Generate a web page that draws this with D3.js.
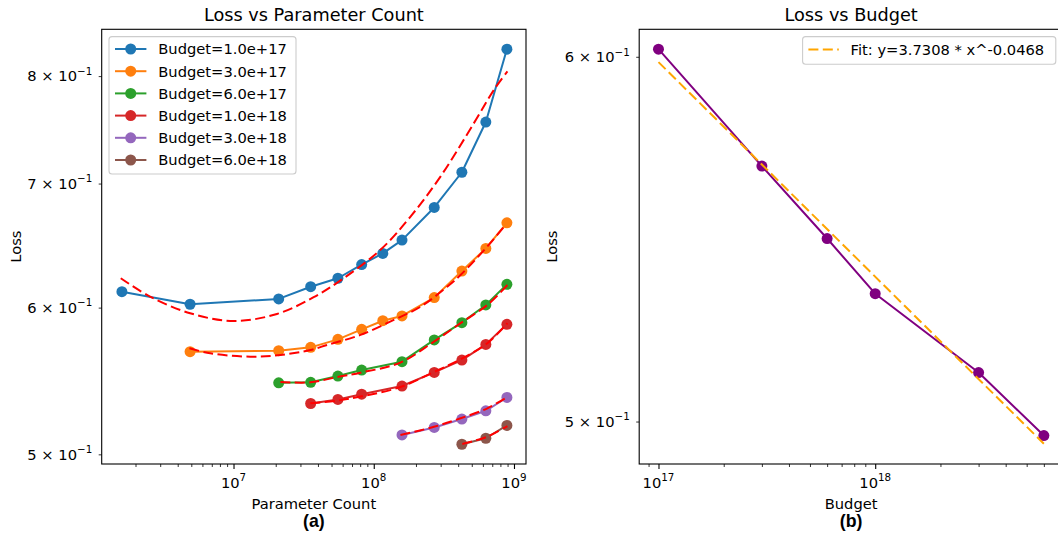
<!DOCTYPE html>
<html><head><meta charset="utf-8">
<script src="https://cdn.jsdelivr.net/npm/d3@7"></script>
<style>
html,body{margin:0;padding:0;background:#fff;}
svg{display:block;font-family:"DejaVu Sans",sans-serif;}
</style></head><body>
<svg id="chart" width="1058" height="538"></svg>
<script>
// ---------------- data ----------------
const budgetLabels = ["Budget=1.0e+17","Budget=3.0e+17","Budget=6.0e+17","Budget=1.0e+18","Budget=3.0e+18","Budget=6.0e+18"];
const seriesColors = ["#1f77b4","#ff7f0e","#2ca02c","#d62728","#9467bd","#8c564b"];

const paramCounts = [1.6e6, 4.9e6, 2.1e7, 3.55e7, 5.55e7, 8.2e7, 1.16e8, 1.59e8, 2.7e8, 4.25e8, 6.3e8, 8.9e8];
const lossB1e17 = [0.612, 0.6025, 0.6065, 0.6158, 0.6223, 0.633, 0.6418, 0.6525, 0.6795, 0.7099, 0.7556, 0.8272];
const lossB3e17 = [null, 0.5680, 0.5687, 0.5711, 0.5768, 0.5840, 0.5903, 0.5938, 0.6075, 0.6279, 0.6458, 0.6667];
const lossB6e17 = [null, null, 0.5465, 0.5468, 0.5511, 0.5552, null, 0.5610, 0.5764, 0.5889, 0.6020, 0.6176];
const lossB1e18 = [null, null, null, 0.5326, 0.5353, 0.5388, null, 0.5443, 0.5536, 0.5621, 0.5732, 0.5877];
const lossB3e18 = [null, null, null, null, null, null, null, 0.5122, 0.5170, 0.5224, 0.5278, 0.5366];
const lossB6e18 = [null, null, null, null, null, null, null, null, null, 0.5063, 0.5101, 0.5183];

// fitted curves (red dashed)
const fitParamsB1e17 = [1.57e6, 2.54e6, 4.91e6, 1.0e7, 2.04e7, 3.73e7, 6.1e7, 1.117e8, 1.83e8, 2.99e8, 5.18e8, 7.2e8, 8.98e8];
const fitLossB1e17   = [0.6223, 0.6083, 0.5958, 0.5901, 0.5953, 0.6078, 0.6223, 0.6447, 0.6719, 0.7061, 0.7546, 0.7865, 0.8046];
const fitParamsB3e17 = [4.85e6, 6.82e6, 1.316e7, 2.16e7, 3.53e7, 4.65e7, 8.04e7, 1.39e8, 2.16e8, 3.34e8, 4.16e8, 6.46e8, 8.73e8];
const fitLossB3e17   = [0.5704, 0.5669, 0.5645, 0.5657, 0.5692, 0.5728, 0.5800, 0.5909, 0.6007, 0.6158, 0.6248, 0.6474, 0.6651];
const fitParamsB6e17 = [2.16e7, 3.53e7, 5.48e7, 8.04e7, 1.55e8, 2.69e8, 4.16e8, 6.46e8, 8.98e8];
const fitLossB6e17   = [0.5471, 0.5468, 0.5504, 0.5534, 0.5604, 0.5752, 0.5885, 0.6020, 0.6171];
const fitParamsB1e18 = [3.53e7, 5.48e7, 8.04e7, 1.55e8, 2.69e8, 4.16e8, 6.46e8, 8.98e8];
const fitLossB1e18   = [0.5327, 0.5345, 0.5372, 0.5436, 0.5539, 0.5627, 0.5740, 0.5885];
const fitParamsB3e18 = [1.55e8, 2.69e8, 4.16e8, 6.46e8, 8.98e8];
const fitLossB3e18   = [0.5122, 0.5174, 0.5229, 0.5294, 0.5370];
const fitParamsB6e18 = [4.28e8, 6.46e8, 8.98e8];
const fitLossB6e18   = [0.5065, 0.5111, 0.5179];

// right panel
const budgets = [1e17, 3e17, 6e17, 1e18, 3e18, 6e18];
const minLoss = [0.6023, 0.5681, 0.5479, 0.5330, 0.5124, 0.4965];
const fitBudgets = [1e17, 6e18];
const fitLossBudget = [0.5984, 0.4945];
const fitLabel = "Fit: y=3.7308 * x^-0.0468";

// ticks
const xTicksLeft = [1e7, 1e8, 1e9];
const xTickExpLeft = ["7", "8", "9"];
const xTicksRight = [1e17, 1e18];
const xTickExpRight = ["17", "18"];
const yTicksLeft = [0.5, 0.6, 0.7, 0.8];
const yTickMantLeft = ["5", "6", "7", "8"];
const yTicksRight = [0.5, 0.6];
const yTickMantRight = ["5", "6"];

// ---------------- layout ----------------
const svg = d3.select("#chart");
const FS = 14.7, SUP = 10.3, TFS = 17.7;
const L = {x0: 101.7, x1: 526, y0: 29.3, y1: 464};
const R = {x0: 639.2, x1: 1063.1, y0: 29.3, y1: 464};

const xL = d3.scaleLog().domain([Math.pow(10, 6.06), Math.pow(10, 9.0857)]).range([L.x0, L.x1]);
const yL = d3.scaleLog().domain([0.49403, 0.8479]).range([L.y1, L.y0]);
const xR = d3.scaleLog().domain([Math.pow(10, 16.911), Math.pow(10, 18.867)]).range([R.x0, R.x1]);
const yR = d3.scaleLog().domain([0.4895, 0.6083]).range([R.y1, R.y0]);

function minorTicks(scale) {
  const [a, b] = scale.domain();
  const out = [];
  for (let e = Math.floor(Math.log10(a)); e <= Math.ceil(Math.log10(b)); e++) {
    for (let m = 2; m <= 9; m++) {
      const v = m * Math.pow(10, e);
      if (v >= a && v <= b) out.push(v);
    }
  }
  return out;
}

function drawAxes(P, xs, ys, xt, xexp, yt, ymant) {
  const g = svg.append("g");
  const ax = d3.axisBottom(xs).tickValues(xt).tickSize(5).tickSizeOuter(0).tickFormat("");
  const gx = g.append("g").attr("transform", `translate(0,${P.y1})`).call(ax);
  gx.select(".domain").remove();
  gx.selectAll("line").attr("stroke", "#000").attr("stroke-width", 1.1);
  const axm = d3.axisBottom(xs).tickValues(minorTicks(xs)).tickSize(3).tickSizeOuter(0).tickFormat("");
  const gxm = g.append("g").attr("transform", `translate(0,${P.y1})`).call(axm);
  gxm.select(".domain").remove();
  gxm.selectAll("line").attr("stroke", "#000").attr("stroke-width", 0.8);
  xt.forEach((v, i) => {
    const t = g.append("text").attr("x", xs(v)).attr("y", 487.5).attr("text-anchor", "middle")
      .attr("font-size", FS).attr("fill", "#000");
    t.append("tspan").text("10");
    t.append("tspan").attr("dy", -6.5).attr("font-size", SUP).text(xexp[i]);
  });
  const ay = d3.axisLeft(ys).tickValues(yt).tickSize(3).tickSizeOuter(0).tickFormat("");
  const gy = g.append("g").attr("transform", `translate(${P.x0},0)`).call(ay);
  gy.select(".domain").remove();
  gy.selectAll("line").attr("stroke", "#000").attr("stroke-width", 0.8);
  yt.forEach((v, i) => {
    const t = g.append("text").attr("x", P.x0 - 9.5).attr("y", ys(v) + 5.3).attr("text-anchor", "end")
      .attr("font-size", FS).attr("fill", "#000");
    t.append("tspan").text(ymant[i] + " \u00d7 10");
    t.append("tspan").attr("dy", -6.5).attr("font-size", SUP).text("\u22121");
  });
}

function drawFrame(P) {
  svg.append("rect").attr("x", P.x0).attr("y", P.y0).attr("width", P.x1 - P.x0).attr("height", P.y1 - P.y0)
    .attr("fill", "none").attr("stroke", "#000").attr("stroke-width", 1.1);
}

// ---------------- left panel ----------------
drawAxes(L, xL, yL, xTicksLeft, xTickExpLeft, yTicksLeft, yTickMantLeft);

const lossSeries = [lossB1e17, lossB3e17, lossB6e17, lossB1e18, lossB3e18, lossB6e18];
const fitParams = [fitParamsB1e17, fitParamsB3e17, fitParamsB6e17, fitParamsB1e18, fitParamsB3e18, fitParamsB6e18];
const fitLosses = [fitLossB1e17, fitLossB3e17, fitLossB6e17, fitLossB1e18, fitLossB3e18, fitLossB6e18];

const lineL = d3.line().x(d => xL(d[0])).y(d => yL(d[1]));
const fitLineL = d3.line().x(d => xL(d[0])).y(d => yL(d[1])).curve(d3.curveCatmullRom.alpha(0.5));

const plotL = svg.append("g");
lossSeries.forEach((ls, i) => {
  const pts = paramCounts.map((p, j) => [p, ls[j]]).filter(d => d[1] != null);
  const gs = plotL.append("g");
  gs.append("path").attr("d", lineL(pts)).attr("fill", "none").attr("stroke", seriesColors[i])
    .attr("stroke-width", 2).attr("stroke-linejoin", "round");
  gs.selectAll("circle").data(pts).join("circle")
    .attr("cx", d => xL(d[0])).attr("cy", d => yL(d[1])).attr("r", 5.5).attr("fill", seriesColors[i]);
  const fpts = fitParams[i].map((p, j) => [p, fitLosses[i][j]]);
  plotL.append("path").attr("d", fitLineL(fpts)).attr("fill", "none").attr("stroke", "#ff0000")
    .attr("stroke-width", 2).attr("stroke-dasharray", "10,4.4");
});
drawFrame(L);

// left legend
const lg = svg.append("g");
lg.append("rect").attr("x", 109).attr("y", 36.6).attr("width", 187).attr("height", 137.4).attr("rx", 3)
  .attr("fill", "#fff").attr("fill-opacity", 0.8).attr("stroke", "#cccccc").attr("stroke-width", 1.1);
budgetLabels.forEach((lab, i) => {
  const cy = 49 + i * 22.2;
  lg.append("line").attr("x1", 115).attr("x2", 146.4).attr("y1", cy).attr("y2", cy)
    .attr("stroke", seriesColors[i]).attr("stroke-width", 2);
  lg.append("circle").attr("cx", 130.7).attr("cy", cy).attr("r", 5.5).attr("fill", seriesColors[i]);
  lg.append("text").attr("x", 158.3).attr("y", cy + 5.3).attr("font-size", FS).attr("fill", "#000").text(lab);
});

// left texts
svg.append("text").attr("x", (L.x0 + L.x1) / 2).attr("y", 21).attr("text-anchor", "middle")
  .attr("font-size", TFS).attr("fill", "#000").text("Loss vs Parameter Count");
svg.append("text").attr("x", (L.x0 + L.x1) / 2).attr("y", 508.8).attr("text-anchor", "middle")
  .attr("font-size", FS).attr("fill", "#000").text("Parameter Count");
svg.append("text").attr("x", (L.x0 + L.x1) / 2).attr("y", 526.5).attr("text-anchor", "middle")
  .attr("font-family", "'Liberation Sans', Arial, sans-serif")
  .attr("font-size", 17.7).attr("font-weight", "bold").attr("fill", "#000").text("(a)");
svg.append("text").attr("transform", `translate(21,${(L.y0 + L.y1) / 2}) rotate(-90)`).attr("text-anchor", "middle")
  .attr("font-size", FS).attr("fill", "#000").text("Loss");

// ---------------- right panel ----------------
drawAxes(R, xR, yR, xTicksRight, xTickExpRight, yTicksRight, yTickMantRight);
const lineR = d3.line().x(d => xR(d[0])).y(d => yR(d[1]));
const rpts = budgets.map((b, j) => [b, minLoss[j]]);
const plotR = svg.append("g");
plotR.append("path").attr("d", lineR(rpts)).attr("fill", "none").attr("stroke", "#800080")
  .attr("stroke-width", 2).attr("stroke-linejoin", "round");
plotR.selectAll("circle").data(rpts).join("circle")
  .attr("cx", d => xR(d[0])).attr("cy", d => yR(d[1])).attr("r", 5.5).attr("fill", "#800080");
const fpr = fitBudgets.map((b, j) => [b, fitLossBudget[j]]);
plotR.append("path").attr("d", lineR(fpr)).attr("fill", "none").attr("stroke", "#ffa500")
  .attr("stroke-width", 2).attr("stroke-dasharray", "10,4.4");
drawFrame(R);

// right legend
const rg = svg.append("g");
rg.append("rect").attr("x", 802.6).attr("y", 36.6).attr("width", 253.2).attr("height", 27.6).attr("rx", 3)
  .attr("fill", "#fff").attr("fill-opacity", 0.8).attr("stroke", "#cccccc").attr("stroke-width", 1.1);
rg.append("line").attr("x1", 808.4).attr("x2", 838.8).attr("y1", 49.6).attr("y2", 49.6)
  .attr("stroke", "#ffa500").attr("stroke-width", 2).attr("stroke-dasharray", "10,4.4");
rg.append("text").attr("x", 850.6).attr("y", 55).attr("font-size", FS).attr("fill", "#000").text(fitLabel);

// right texts
svg.append("text").attr("x", (R.x0 + R.x1) / 2).attr("y", 21).attr("text-anchor", "middle")
  .attr("font-size", TFS).attr("fill", "#000").text("Loss vs Budget");
svg.append("text").attr("x", (R.x0 + R.x1) / 2).attr("y", 508.8).attr("text-anchor", "middle")
  .attr("font-size", FS).attr("fill", "#000").text("Budget");
svg.append("text").attr("x", (R.x0 + R.x1) / 2).attr("y", 526.5).attr("text-anchor", "middle")
  .attr("font-family", "'Liberation Sans', Arial, sans-serif")
  .attr("font-size", 17.7).attr("font-weight", "bold").attr("fill", "#000").text("(b)");
svg.append("text").attr("transform", `translate(557,${(R.y0 + R.y1) / 2}) rotate(-90)`).attr("text-anchor", "middle")
  .attr("font-size", FS).attr("fill", "#000").text("Loss");
</script>
</body></html>
